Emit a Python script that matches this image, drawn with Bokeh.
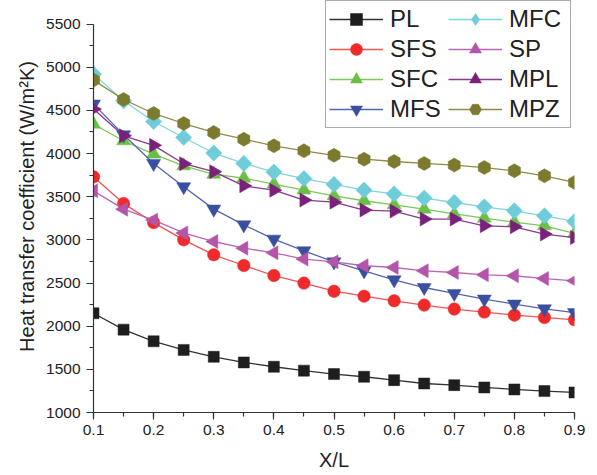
import numpy as np
from bokeh.plotting import figure
from bokeh.models import Legend, LegendItem, Range1d, FixedTicker
from bokeh.embed import file_html
from bokeh.resources import INLINE

# ---- data ----
x_over_L = [0.10, 0.15, 0.20, 0.25, 0.30, 0.35, 0.40, 0.45, 0.50,
            0.55, 0.60, 0.65, 0.70, 0.75, 0.80, 0.85, 0.90]
PL  = [2150, 1960, 1825, 1725, 1645, 1580, 1530, 1485, 1445, 1414, 1375, 1336, 1317, 1290, 1267, 1248, 1232]
SFS = [3730, 3420, 3200, 3000, 2827, 2703, 2587, 2499, 2405, 2348, 2294, 2244, 2198, 2163, 2128, 2101, 2074]
SFC = [4340, 4148, 3994, 3858, 3760, 3715, 3646, 3577, 3510, 3453, 3406, 3356, 3300, 3252, 3205, 3163, 3074]
MFS = [4573, 4217, 3885, 3615, 3356, 3174, 3008, 2873, 2745, 2641, 2537, 2448, 2379, 2314, 2256, 2201, 2158]
MFC = [4920, 4611, 4371, 4186, 4006, 3885, 3786, 3710, 3642, 3577, 3533, 3484, 3433, 3383, 3337, 3279, 3213]
SP  = [3568, 3356, 3229, 3080, 2981, 2904, 2850, 2777, 2745, 2700, 2680, 2641, 2622, 2595, 2584, 2552, 2526]
MPL = [4515, 4206, 4095, 3882, 3790, 3626, 3575, 3461, 3437, 3345, 3333, 3241, 3241, 3163, 3151, 3067, 3027]
MPZ = [4851, 4626, 4464, 4348, 4244, 4167, 4090, 4032, 3979, 3935, 3908, 3885, 3866, 3838, 3800, 3742, 3665]

series_names = ["PL", "SFS", "SFC", "MFS", "MFC", "SP", "MPL", "MPZ"]
series_values = [PL, SFS, SFC, MFS, MFC, SP, MPL, MPZ]
y_ticks = [1000, 1500, 2000, 2500, 3000, 3500, 4000, 4500, 5000, 5500]
x_ticks = [0.1, 0.2, 0.3, 0.4, 0.5, 0.6, 0.7, 0.8, 0.9]

# ---- styles ----
# "legend" = marker used for the legend sample when it differs (legend ignores rotation)
styles = {
    "PL":  dict(marker="square",            size=11,   angle=0.0,        fill="#1e1e1e", line="#333333"),
    "SFS": dict(marker="circle",            size=12.5, angle=0.0,        fill="#ee2a2a", line="#f05555"),
    "SFC": dict(marker="triangle",          size=14,   angle=0.0,        fill="#6abf45", line="#7cc85a"),
    "MFS": dict(marker="inverted_triangle", size=14,   angle=0.0,        fill="#3a4fa0", line="#5565b0"),
    "MFC": dict(marker="square",            size=11.5, angle=np.pi / 4,  fill="#6fcdd9", line="#80d4de",
                legend="diamond"),
    "SP":  dict(marker="triangle",          size=14,   angle=np.pi / 2,  fill="#b355a9", line="#bb66b3"),
    "MPL": dict(marker="triangle",          size=14,   angle=-np.pi / 2, fill="#7a217b", line="#8a3a8b"),
    "MPZ": dict(marker="hex",               size=14,   angle=np.pi / 2,  fill="#7b7a2e", line="#8e8c45"),
}

FONT = "Liberation Sans"
TXT = "#222222"

# frame spans the full height above the x axis; the y axis line is bounded to 1000..5500
p = figure(width=597, height=475, output_backend="svg", toolbar_location=None,
           x_range=Range1d(0.1, 0.9), y_range=Range1d(1000, 5773),
           min_border_left=93, min_border_right=23, min_border_top=0, min_border_bottom=63)
p.outline_line_color = None
p.xgrid.grid_line_color = None
p.ygrid.grid_line_color = None
p.background_fill_color = "white"
p.border_fill_color = "white"

for ax in (p.xaxis[0], p.yaxis[0]):
    ax.axis_line_color = "#333333"
    ax.axis_line_width = 1.2
    ax.major_tick_line_color = "#333333"
    ax.minor_tick_line_color = "#333333"
    ax.major_tick_line_width = 1.2
    ax.minor_tick_line_width = 1.2
    ax.major_tick_out = 7
    ax.major_tick_in = 0
    ax.minor_tick_out = 4
    ax.minor_tick_in = 0
    ax.major_label_text_font = FONT
    ax.major_label_text_font_size = "15.5px"
    ax.major_label_text_color = TXT
    ax.axis_label_text_font = FONT
    ax.axis_label_text_font_size = "20px"
    ax.axis_label_text_font_style = "normal"
    ax.axis_label_text_color = TXT

p.yaxis.bounds = (1000, 5500)
p.xaxis.ticker = FixedTicker(ticks=x_ticks, minor_ticks=[0.1 + 0.05 * i for i in range(17)])
p.yaxis.ticker = FixedTicker(ticks=y_ticks, minor_ticks=[1000 + 250 * i for i in range(19)])
p.xaxis.axis_label = "X/L"
p.yaxis.axis_label = "Heat transfer coefficient (W/m\u00b2K)"
p.xaxis.major_label_standoff = 5
p.yaxis.major_label_standoff = 6
p.xaxis.axis_label_standoff = 11
p.yaxis.axis_label_standoff = 5

items = []
for name, vals in zip(series_names, series_values):
    st = styles[name]
    lr = p.line(x_over_L, vals, line_color=st["line"], line_width=1.3)
    sr = p.scatter(x_over_L, vals, marker=st["marker"], size=st["size"], angle=st["angle"],
                   fill_color=st["fill"], line_color=st["fill"], line_width=0.5)
    rends = [lr, sr]
    if "legend" in st:
        # non-drawing (NaN) renderer used only for the legend sample shape
        lg = p.scatter(x=[float("nan")], y=[float("nan")], marker=st["legend"], size=st["size"],
                       fill_color=st["fill"], line_color=st["fill"], line_width=0.5)
        rends = [lr, lg]
    items.append(LegendItem(label=name, renderers=rends))

legend = Legend(items=items, location=(232, 284), orientation="vertical", nrows=4,
                label_text_font=FONT, label_text_font_size="24px", label_text_color=TXT,
                glyph_width=54, glyph_height=30, label_height=30, label_width=58,
                label_standoff=7, spacing=-1, padding=3, margin=0,
                border_line_color="#555555", border_line_width=1.5,
                background_fill_color="white", background_fill_alpha=1.0)
p.add_layout(legend, "center")

open("out.html", "w").write(file_html(p, INLINE))
